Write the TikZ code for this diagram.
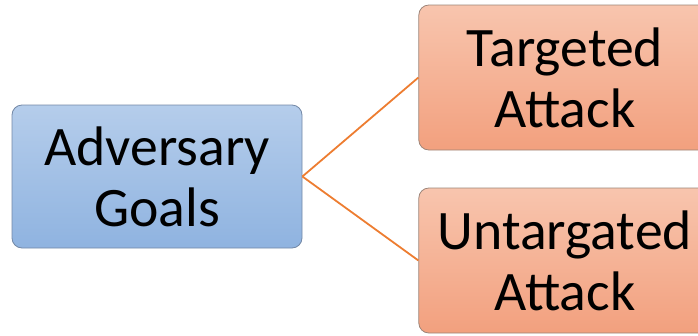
\documentclass[tikz,border=0pt]{standalone}
\usepackage{fontspec}
\setmainfont{Carlito}
\usetikzlibrary{
    positioning,
    shapes,
}

\definecolor{goaltop}{HTML}{B5CDEB}
\definecolor{goalbot}{HTML}{8FB3E0}
\definecolor{goalline}{HTML}{7388A6}
\definecolor{attacktop}{HTML}{F8C5AE}
\definecolor{attackbot}{HTML}{F2A07E}
\definecolor{attackline}{HTML}{9C8478}
\definecolor{linkorange}{HTML}{ED7D31}

\begin{document}
\begin{tikzpicture}[
    x=1pt, y=-1pt,
    node distance= 116pt,
    box/.style={draw, rounded corners=10pt, line width=0.8pt, align=center,
        inner sep=0pt, font=\fontsize{55.7}{61}\selectfont},
    goal/.style={box, draw=goalline, top color=goaltop, bottom color=goalbot,
        minimum width=290pt, minimum height=143pt},
    attack/.style={box, draw=attackline, top color=attacktop, bottom color=attackbot,
        minimum width=292pt, minimum height=145pt},
    link/.style={draw=linkorange, line width=1.8pt},
]
\useasboundingbox (0,0) rectangle (698,335);

\node[goal] (goals) at (157,176.5) {Adversary\\Goals};

\node[attack] (targeted) [right=of goals, yshift=99pt] {Targeted\\Attack};
\node[attack] (untargeted) [right=of goals, yshift=-84pt] {Untargated\\Attack};

\draw[link] (goals.east) -- (targeted.west);
\draw[link] (goals.east) -- (untargeted.west);

\end{tikzpicture}
\end{document}
